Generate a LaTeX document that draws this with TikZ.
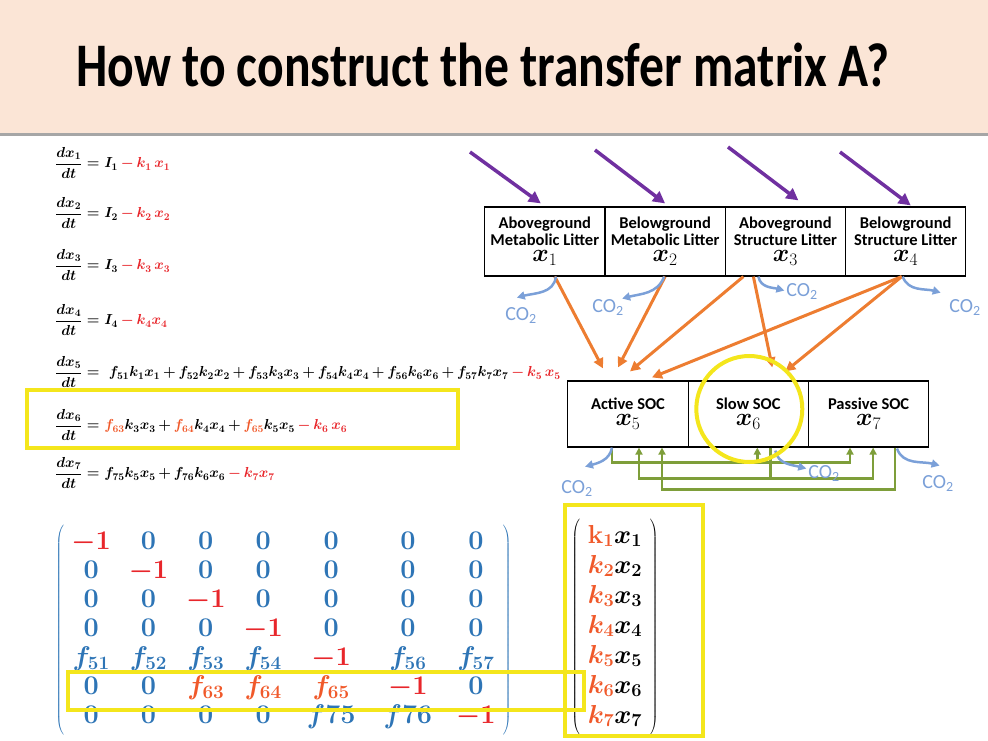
\RequirePackage{fix-cm}
\documentclass[tikz,border=0pt]{standalone}
\usepackage{amsmath,bm}
\usepackage[no-math]{fontspec}
\newfontfamily\calibri{Carlito}
\usetikzlibrary{arrows.meta,calc,matrix}
\definecolor{banner}{HTML}{FBE5D6}
\definecolor{inflow}{HTML}{7030A0}
\definecolor{transfer}{HTML}{ED7D31}
\definecolor{resp}{HTML}{7BA0D8}
\definecolor{cycle}{HTML}{7E9E3A}
\definecolor{hilite}{HTML}{F4E61C}
\definecolor{matblue}{HTML}{2E75B6}
\definecolor{minus}{HTML}{E8262B}
\definecolor{share}{HTML}{F0592A}
\medmuskip=3mu
\tikzset{
  pool/.style={draw=black, line width=1.2pt, fill=white, minimum width=120.3pt,
               minimum height=69pt, align=center, inner sep=1pt,
               font=\calibri\bfseries\fontsize{16.5}{17}\selectfont},
  soc/.style={pool, minimum height=66pt},
  title/.style={font=\calibri\bfseries\fontsize{62}{62}\selectfont, inner sep=0pt},
  eqn/.style={anchor=west, inner sep=0pt, font=\fontsize{14.5}{18}\selectfont\boldmath},
  % matrix cells share one height, so the rows keep an even pitch
  cell/.style={minimum width=36pt, text height=18pt, text depth=6pt, inner sep=2.5pt,
               font=\fontsize{27}{27}\selectfont\boldmath, text=matblue},
  vcell/.style={minimum width=50pt, text height=18pt, text depth=6pt, inner sep=3pt,
               font=\fontsize{26}{26}\selectfont\boldmath},
  co2lab/.style={text=resp, inner sep=0pt, font=\calibri\fontsize{20}{20}\selectfont},
  input/.style={draw=inflow, line width=3.5pt, -{Triangle[length=12pt,width=12pt]}},
  flux/.style={draw=transfer, line width=3pt, -{Triangle[length=10pt,width=10pt]}},
  loop/.style={draw=cycle, line width=2.5pt, -{Triangle[length=7pt,width=7pt]}},
  respire/.style={draw=resp, line width=2.5pt, -{Triangle[length=8pt,width=8pt]}},
  hibox/.style={draw=hilite, line width=4pt},
  ring/.style={circle, draw=hilite, line width=4pt, minimum size=106pt, inner sep=0pt},
}
\newcommand{\poolvar}[1]{{\fontsize{25}{25}\selectfont$\bm{x}_{#1}$}}
\newcommand{\loss}[1]{{\color{minus}{}-#1}}
\newcommand{\share}[1]{{\color{share}f_{#1}}}

\begin{document}
\begin{tikzpicture}[x=1pt, y=-1pt]
  \useasboundingbox (0,0) rectangle (988,741);

  % --- title banner ----------------------------------------------------------
  \fill[banner] (0,0) rectangle (988,133);
  \fill[black!35] (0,133) rectangle (988,136);
  \node[title] (head) at (483,65) {\scalebox{0.8}[1]{How to construct the transfer matrix A?}};

  % --- balance equations ------------------------------------------------------
  \node[eqn] (eq1) at (55,163) {$\displaystyle\frac{dx_1}{dt} = I_1 \loss{k_1\,x_1}$};
  \node[eqn] (eq2) at (55,213) {$\displaystyle\frac{dx_2}{dt} = I_2 \loss{k_2\,x_2}$};
  \node[eqn] (eq3) at (55,265) {$\displaystyle\frac{dx_3}{dt} = I_3 \loss{k_3\,x_3}$};
  \node[eqn] (eq4) at (55,320) {$\displaystyle\frac{dx_4}{dt} = I_4 \loss{k_4x_4}$};
  \node[eqn] (eq5) at (55,372) {$\displaystyle\frac{dx_5}{dt} =\; f_{51}k_1x_1 + f_{52}k_2x_2
    + f_{53}k_3x_3 + f_{54}k_4x_4 + f_{56}k_6x_6 + f_{57}k_7x_7 \loss{k_5\,x_5}$};
  \node[eqn] (eq6) at (55,425) {$\displaystyle\frac{dx_6}{dt} = \share{63}k_3x_3
    + \share{64}k_4x_4 + \share{65}k_5x_5 \loss{k_6\,x_6}$};
  \node[eqn] (eq7) at (55,473) {$\displaystyle\frac{dx_7}{dt} = f_{75}k_5x_5 + f_{76}k_6x_6 \loss{k_7x_7}$};

  % --- pools: l<k> litter on top, s<k> soil organic carbon below --------------
  \foreach \k in {1,...,4} {\coordinate (l\k) at ({424.5+\k*120.3},241.5);}
  \foreach \k in {5,6,7} {\coordinate (s\k) at ({26.5+\k*120.3},414);}

  \node[pool] (x1) at (l1) {Aboveground\\Metabolic Litter\\[-1pt]\poolvar{1}};
  \node[pool] (x2) at (l2) {Belowground\\Metabolic Litter\\[-1pt]\poolvar{2}};
  \node[pool] (x3) at (l3) {Aboveground\\Structure Litter\\[-1pt]\poolvar{3}};
  \node[pool] (x4) at (l4) {Belowground\\Structure Litter\\[-1pt]\poolvar{4}};
  \node[soc] (x5) at (s5) {Active SOC\\[-1pt]\poolvar{5}};
  \node[soc] (x6) at (s6) {Slow SOC\\[-1pt]\poolvar{6}};
  \node[soc] (x7) at (s7) {Passive SOC\\[-1pt]\poolvar{7}};

  % litter inputs
  \coordinate (in1) at (470,152);
  \coordinate (in2) at (595,150);
  \coordinate (in3) at (728,147);
  \coordinate (in4) at (840,152);
  \draw[input] (in1) -- ($(x1.north)+(-4,-3)$);
  \draw[input] (in2) -- ($(x2.north)+(0,-3)$);
  \draw[input] (in3) -- ($(x3.north)+(13,-6)$);
  \draw[input] (in4) -- ($(x4.north)+(5,-1)$);

  % litter to soil transfers
  \draw[flux] ($(x1.south)+(10,0)$) -- ($(x5.north)+(-25,-12)$);
  \draw[flux] ($(x2.south)+(0,0)$) -- ($(x5.north)+(-10,-13)$);
  \draw[flux] ($(x3.south)+(-42,0)$) -- ($(x5.north)+(2,-9)$);
  \draw[flux] ($(x3.south)+(-32,0)$) -- ($(x6.north)+(24,-13)$);
  \draw[flux] ($(x4.south)+(-4,0)$) -- ($(x5.north)+(24,-3)$);
  \draw[flux] ($(x4.south)+(-4,0)$) -- ($(x6.north)+(37,-9)$);

  % exchanges among the soil pools
  \draw[loop] ($(x5.south)+(-16,0)$) -- ++(0,15) -| ($(x7.south)+(-18.6,0)$);
  \draw[loop] ($(x6.south)+(9,15)$) -- ($(x6.south)+(9,0)$);
  \draw[loop] ($(x6.south)+(22,0)$) -- ++(0,31) -| ($(x5.south)+(11,0)$);
  \draw[loop] ($(x6.south)+(22,31)$) -| ($(x7.south)+(4.5,0)$);
  \draw[loop] ($(x7.south)+(26.5,0)$) -- ++(0,42) -| ($(x5.south)+(34,0)$);

  % respiration
  \draw[respire] ($(x1.south)+(11,0)$) to[out=-95,in=15] ($(x1.south)+(-28,21)$);
  \draw[respire] ($(x2.south)+(-1,0)$) to[out=-110,in=15] ($(x2.south)+(-43,22)$);
  \draw[respire] ($(x3.south)+(-27,0)$) to[out=-80,in=165] ($(x3.south)+(-1,14)$);
  \draw[respire] ($(x4.south)+(-3,0)$) to[out=-70,in=165] ($(x4.south)+(35,16)$);
  \draw[respire] ($(x5.south)+(-16,0)$) to[out=-100,in=15] ($(x5.south)+(-43,19)$);
  \draw[respire] ($(x6.south)+(27,3)$) to[out=-80,in=165] ($(x6.south)+(58,21)$);
  \draw[respire] ($(x7.south)+(28.4,1)$) to[out=-70,in=165] ($(x7.south)+(71,18)$);
  \node[co2lab] (c1) at (521,316) {CO\textsubscript{2}};
  \node[co2lab] (c2) at (608,308) {CO\textsubscript{2}};
  \node[co2lab] (c3) at (802,292) {CO\textsubscript{2}};
  \node[co2lab] (c4) at (965,308) {CO\textsubscript{2}};
  \node[co2lab] (c5) at (577,489) {CO\textsubscript{2}};
  \node[co2lab] (c6) at (824,474) {CO\textsubscript{2}};
  \node[co2lab] (c7) at (938,484) {CO\textsubscript{2}};

  \node[ring] (focus) at ($(x6)+(1,-5)$) {};

  % --- transfer matrix and the outflow vector ---------------------------------
  % the delimiters are drawn after the matrix node, so they take the scope's colour
  \begin{scope}[every delimiter/.style={matblue}]
  \matrix (A) [matrix of math nodes, nodes={cell}, column sep=13pt,
               left delimiter=(, right delimiter=)] at (283.5,630) {
    |[text=minus]| -1 & 0 & 0 & 0 &[6pt] 0 &[10pt] 0 &[6pt] 0 \\
    0 & |[text=minus]| -1 & 0 & 0 & 0 & 0 & 0 \\
    0 & 0 & |[text=minus]| -1 & 0 & 0 & 0 & 0 \\
    0 & 0 & 0 & |[text=minus]| -1 & 0 & 0 & 0 \\
    f_{51} & f_{52} & f_{53} & f_{54} & |[text=minus]| -1 & f_{56} & f_{57} \\
    0 & 0 & |[text=share]| f_{63} & |[text=share]| f_{64} & |[text=share]| f_{65} & |[text=minus]| -1 & 0 \\
    0 & 0 & 0 & 0 & f75 & f76 & |[text=minus]| -1 \\
  };
  \end{scope}
  \matrix (v) [matrix of math nodes, nodes={vcell}, column sep=0pt,
               left delimiter=(, right delimiter=)] at (615,627) {
    {\color{share}\mathbf{k}_{\mathbf{1}}}x_1 \\
    {\color{share}k_2}x_2 \\
    {\color{share}k_3}x_3 \\
    {\color{share}k_4}x_4 \\
    {\color{share}k_5}x_5 \\
    {\color{share}k_6}x_6 \\
    {\color{share}k_7}x_7 \\
  };

  % --- highlights -------------------------------------------------------------
  \draw[hibox] ($(eq6.west)+(-28,-35)$) rectangle ($(eq6.west)+(403,23)$);
  \draw[hibox] ($(v.center)+(-50,-122)$) rectangle ($(v.center)+(88,109)$);
  \draw[hibox] ($(A-6-1.west)+(-5,-16)$) rectangle ($(v-6-1.center)+(-31,23)$);
\end{tikzpicture}
\end{document}
